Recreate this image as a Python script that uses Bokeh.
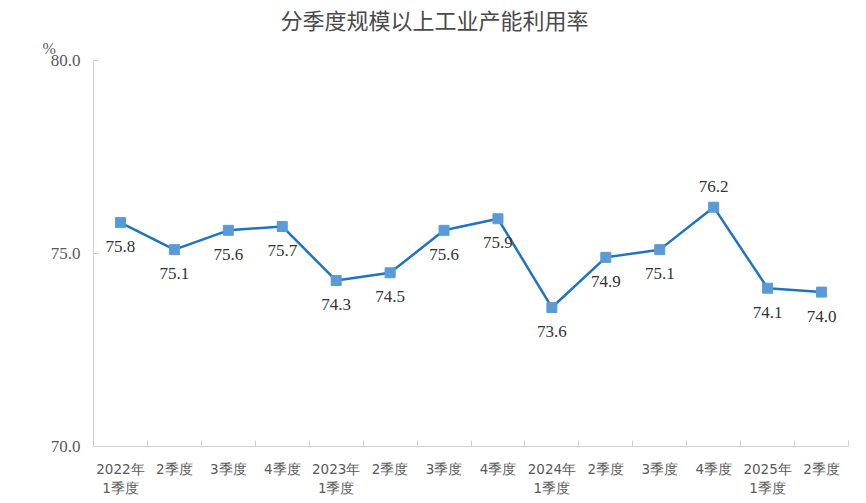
from bokeh.plotting import figure
from bokeh.models import ColumnDataSource, FixedTicker, Title, Range1d, NumeralTickFormatter
from bokeh.core.properties import value
from bokeh.embed import file_html
from bokeh.resources import INLINE

title_text = "分季度规模以上工业产能利用率"
categories = ["2022年\n1季度", "2季度", "3季度", "4季度",
              "2023年\n1季度", "2季度", "3季度", "4季度",
              "2024年\n1季度", "2季度", "3季度", "4季度",
              "2025年\n1季度", "2季度"]
rates = [75.8, 75.1, 75.6, 75.7, 74.3, 74.5, 75.6, 75.9, 73.6, 74.9, 75.1, 76.2, 74.1, 74.0]
label_side = ["below"] * 11 + ["above"] + ["below"] * 2
y_ticks = [70, 75, 80]

xs = list(range(len(categories)))
offsets = [-21 if s == "above" else 24 for s in label_side]
src = ColumnDataSource(dict(x=xs, y=rates, lab=[f"{v:.1f}" for v in rates], off=offsets))

p = figure(width=858, height=496, output_backend="svg", toolbar_location=None,
           frame_width=755, frame_height=386,
           x_range=Range1d(-0.5, len(categories) - 0.5), y_range=Range1d(70, 80),
           min_border_left=93, min_border_top=60, min_border_bottom=50, min_border_right=10)
p.outline_line_color = None
p.background_fill_color = "white"
p.xgrid.visible = False
p.ygrid.visible = False

p.line("x", "y", source=src, line_color="#1f73c1", line_width=2.5)
p.scatter("x", "y", source=src, marker="square", size=10, fill_color="#5b9bd5", line_color="#5b9bd5")
p.text("x", "y", text="lab", source=src, y_offset="off", text_align="center", text_baseline="middle",
       text_font=value("Liberation Serif"), text_font_size="17px", text_color="#333333")

# axes
xa = p.xaxis[0]
xa.ticker = FixedTicker(ticks=xs, minor_ticks=[i - 0.5 for i in range(len(categories) + 1)])
xa.major_label_overrides = {i: c for i, c in enumerate(categories)}
xa.major_tick_line_color = None
xa.minor_tick_in = 6
xa.minor_tick_out = 0
xa.minor_tick_line_color = "#d0d0d0"
xa.axis_line_color = "#d0d0d0"
xa.major_label_text_font = "DejaVu Sans"
xa.major_label_text_font_size = "13.5px"
xa.major_label_text_color = "#595959"
xa.major_label_standoff = 8

ya = p.yaxis[0]
ya.ticker = FixedTicker(ticks=y_ticks)
ya.formatter = NumeralTickFormatter(format="0.0")
ya.major_tick_in = 5
ya.major_tick_out = 0
ya.minor_tick_line_color = None
ya.major_tick_line_color = "#d0d0d0"
ya.axis_line_color = "#d0d0d0"
ya.major_label_text_font = "Liberation Sans Narrow"
ya.major_label_text_font_size = "17px"
ya.major_label_text_color = "#595959"
ya.major_label_standoff = 13

t_pct = Title(text="%", align="left", offset=-51, standoff=7, text_font="Liberation Sans Narrow",
              text_font_size="16px", text_font_style="normal", text_color="#595959")
t_main = Title(text=title_text, align="left", offset=187, standoff=0, text_font="Noto Sans CJK SC",
               text_font_size="22px", text_font_style="normal", text_color="#4a4a4a")
p.add_layout(t_pct, "above")
p.add_layout(t_main, "above")

open("out.html", "w").write(file_html(p, INLINE))
